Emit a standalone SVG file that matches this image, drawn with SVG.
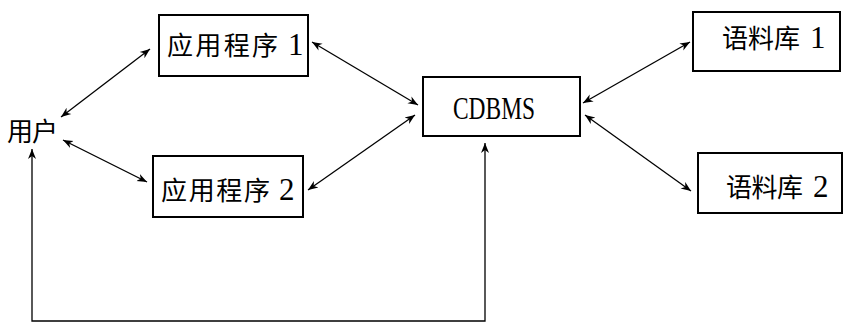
<svg xmlns="http://www.w3.org/2000/svg" width="844" height="323" viewBox="0 0 844 323">
<style>
.box{fill:#fff;stroke:#000;stroke-width:2}
.t{font-family:"Noto Sans CJK SC","Liberation Serif",sans-serif;font-size:26px;fill:#000}
.d{font-family:"Liberation Serif",serif;font-size:31px;fill:#000}
.c{fill:none;stroke:#000;stroke-width:1.3}
</style>
<defs>
<marker id="ah" viewBox="0 0 10 10" refX="10" refY="5" markerWidth="10" markerHeight="10" markerUnits="userSpaceOnUse" orient="auto-start-reverse">
<path d="M0,1 L10,5 L0,9 L3,5 Z" fill="#000"/>
</marker>
</defs>
<rect width="844" height="323" fill="#fff"/>
<g id="connectors">
<line class="c" x1="61" y1="117" x2="150" y2="49" marker-start="url(#ah)" marker-end="url(#ah)"/>
<line class="c" x1="63" y1="140" x2="147" y2="182" marker-start="url(#ah)" marker-end="url(#ah)"/>
<line class="c" x1="312" y1="42" x2="418" y2="105" marker-start="url(#ah)" marker-end="url(#ah)"/>
<line class="c" x1="308" y1="190" x2="415" y2="115" marker-start="url(#ah)" marker-end="url(#ah)"/>
<line class="c" x1="583" y1="103" x2="690" y2="42" marker-start="url(#ah)" marker-end="url(#ah)"/>
<line class="c" x1="585" y1="115" x2="691" y2="191" marker-start="url(#ah)" marker-end="url(#ah)"/>
<polyline class="c" points="485,143 485,321 32,321 32,149" marker-start="url(#ah)" marker-end="url(#ah)"/>
</g>
<g id="user">
<text class="t" x="7" y="141" textLength="51" font-size="25">用户</text>
</g>
<g id="app1">
<rect class="box" x="159" y="15" width="149" height="61"/>
<text class="t" x="167" y="55" textLength="111">应用程序</text>
<text class="d" x="288" y="55">1</text>
</g>
<g id="app2">
<rect class="box" x="153" y="156" width="150" height="61"/>
<text class="t" x="161" y="200" textLength="109">应用程序</text>
<text class="d" x="279" y="200">2</text>
</g>
<g id="cdbms">
<rect class="box" x="423" y="77" width="157" height="59"/>
<text class="d" x="453" y="119" font-size="28" textLength="82" lengthAdjust="spacingAndGlyphs">CDBMS</text>
</g>
<g id="corpus1">
<rect class="box" x="693" y="12" width="147" height="59"/>
<text class="t" x="722" y="48" textLength="78" font-size="25">语料库</text>
<text class="d" x="810" y="48">1</text>
</g>
<g id="corpus2">
<rect class="box" x="698" y="153" width="144" height="60"/>
<text class="t" x="726" y="197" textLength="77" font-size="25">语料库</text>
<text class="d" x="813" y="197">2</text>
</g>
</svg>
